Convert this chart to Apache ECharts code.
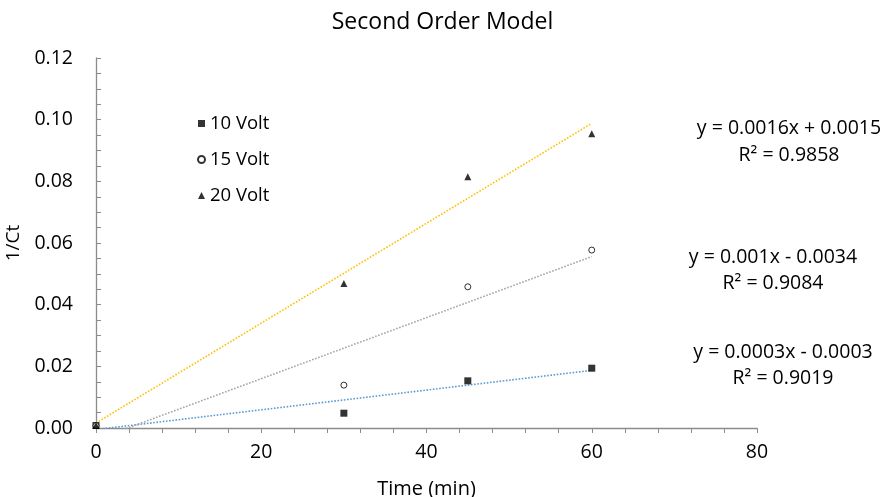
<!DOCTYPE html>
<html>
<head>
<meta charset="utf-8">
<script src="https://cdn.jsdelivr.net/npm/echarts@6/dist/echarts.min.js"></script>
<style>
  html, body { margin: 0; padding: 0; background: #fff; }
  #chart { width: 885px; height: 497px; }
</style>
</head>
<body>
<div id="chart"></div>
<script>
// measured times (min)
var times = [0, 30, 45, 60];
// 1/Ct
var volt10 = [0.0008, 0.0048, 0.0153, 0.0194];
var volt15 = [0.0008, 0.0139, 0.0458, 0.0577];
var volt20 = [0.0008, 0.0469, 0.0815, 0.0954];
var seriesNames = ['10 Volt', '15 Volt', '20 Volt'];
// trendline fits (slope, intercept) as drawn
var fitSlope = [0.00032, 0.00099, 0.00162];
var fitIntercept = [-0.0005, -0.0038, 0.0016];
var fitRange = [0, 60];
var fitColors = ['#5B9BD5', '#A5A5A5', '#FFC000'];
var eqLabels = [
    ['y = 0.0003x - 0.0003', 'R² = 0.9019'],
    ['y = 0.001x - 0.0034', 'R² = 0.9084'],
    ['y = 0.0016x + 0.0015', 'R² = 0.9858']
];

var font = '"Open Sans", sans-serif';
var chart = echarts.init(document.getElementById('chart'));

function pts(ys) {
    var out = [];
    for (var i = 0; i < times.length; i++) {
        out.push([times[i], ys[i]]);
    }
    return out;
}

function fitLine(k) {
    return fitRange.map(function (x) {
        return [x, fitSlope[k] * x + fitIntercept[k]];
    });
}

var symbols = ['rect', 'circle', 'triangle'];
var allData = [volt10, volt15, volt20];
var series = [];

// trendlines first so markers sit on top
for (var k = 0; k < 3; k++) {
    series.push({
        type: 'line',
        data: fitLine(k),
        showSymbol: false,
        silent: true,
        clip: true,
        lineStyle: { color: fitColors[k], width: 1.6, type: 'dotted' },
        z: 1
    });
}
for (var s = 0; s < 3; s++) {
    series.push({
        name: seriesNames[s],
        type: 'scatter',
        data: pts(allData[s]),
        symbol: symbols[s],
        symbolSize: s == 1 ? 6 : 7,
        itemStyle: s == 1
            ? { color: '#fff', borderColor: '#000', borderWidth: 1 }
            : { color: '#000' },
        z: 3
    });
}

// equation label centres
var eqPos = [[783, 352, 378], [773, 257, 283], [789, 128, 155]];
var graphics = [];
for (var g = 0; g < 3; g++) {
    for (var j = 0; j < 2; j++) {
        graphics.push({
            type: 'text',
            x: eqPos[g][0],
            y: eqPos[g][j + 1],
            style: {
                text: eqLabels[g][j],
                font: '19.5px ' + font,
                fill: '#000',
                textAlign: 'center',
                textVerticalAlign: 'middle'
            }
        });
    }
}

var option = {
    animation: false,
    backgroundColor: '#fff',
    title: {
        text: 'Second Order Model',
        left: 'center',
        top: 6,
        textStyle: { fontFamily: font, fontSize: 23, fontWeight: 'normal', color: '#000' }
    },
    legend: {
        data: seriesNames,
        orient: 'vertical',
        left: 192,
        top: 109,
        itemGap: 17,
        itemWidth: 7,
        itemHeight: 7,
        textStyle: { fontFamily: font, fontSize: 18.5, color: '#000' }
    },
    grid: { left: 96, right: 128, top: 58, bottom: 69, containLabel: false, outerBoundsMode: 'none' },
    xAxis: {
        type: 'value',
        min: 0,
        max: 80,
        interval: 20,
        name: 'Time (min)',
        nameLocation: 'middle',
        nameGap: 51,
        nameTextStyle: { fontFamily: font, fontSize: 20, color: '#000' },
        axisLine: { show: true, lineStyle: { color: '#8c8c8c', width: 1.3 } },
        axisTick: { show: true, length: 5, lineStyle: { color: '#8c8c8c' } },
        minorTick: { show: true, splitNumber: 5, length: 5, lineStyle: { color: '#8c8c8c' } },
        axisLabel: { fontFamily: font, fontSize: 19.5, color: '#000', margin: 14 },
        splitLine: { show: false }
    },
    yAxis: {
        type: 'value',
        min: 0,
        max: 0.12,
        interval: 0.02,
        name: '1/Ct',
        nameLocation: 'middle',
        nameGap: 62,
        nameTextStyle: { fontFamily: font, fontSize: 19, color: '#000' },
        axisLine: { show: true, lineStyle: { color: '#8c8c8c', width: 1.3 } },
        axisTick: { show: true, inside: true, length: 5, lineStyle: { color: '#8c8c8c' } },
        minorTick: { show: true, splitNumber: 4, length: 5, lineStyle: { color: '#8c8c8c' } },
        axisLabel: {
            fontFamily: font, fontSize: 19.5, color: '#000', margin: 23,
            formatter: function (v) { return v.toFixed(2); }
        },
        splitLine: { show: false }
    },
    graphic: graphics,
    series: series
};
chart.setOption(option);
</script>
</body>
</html>
